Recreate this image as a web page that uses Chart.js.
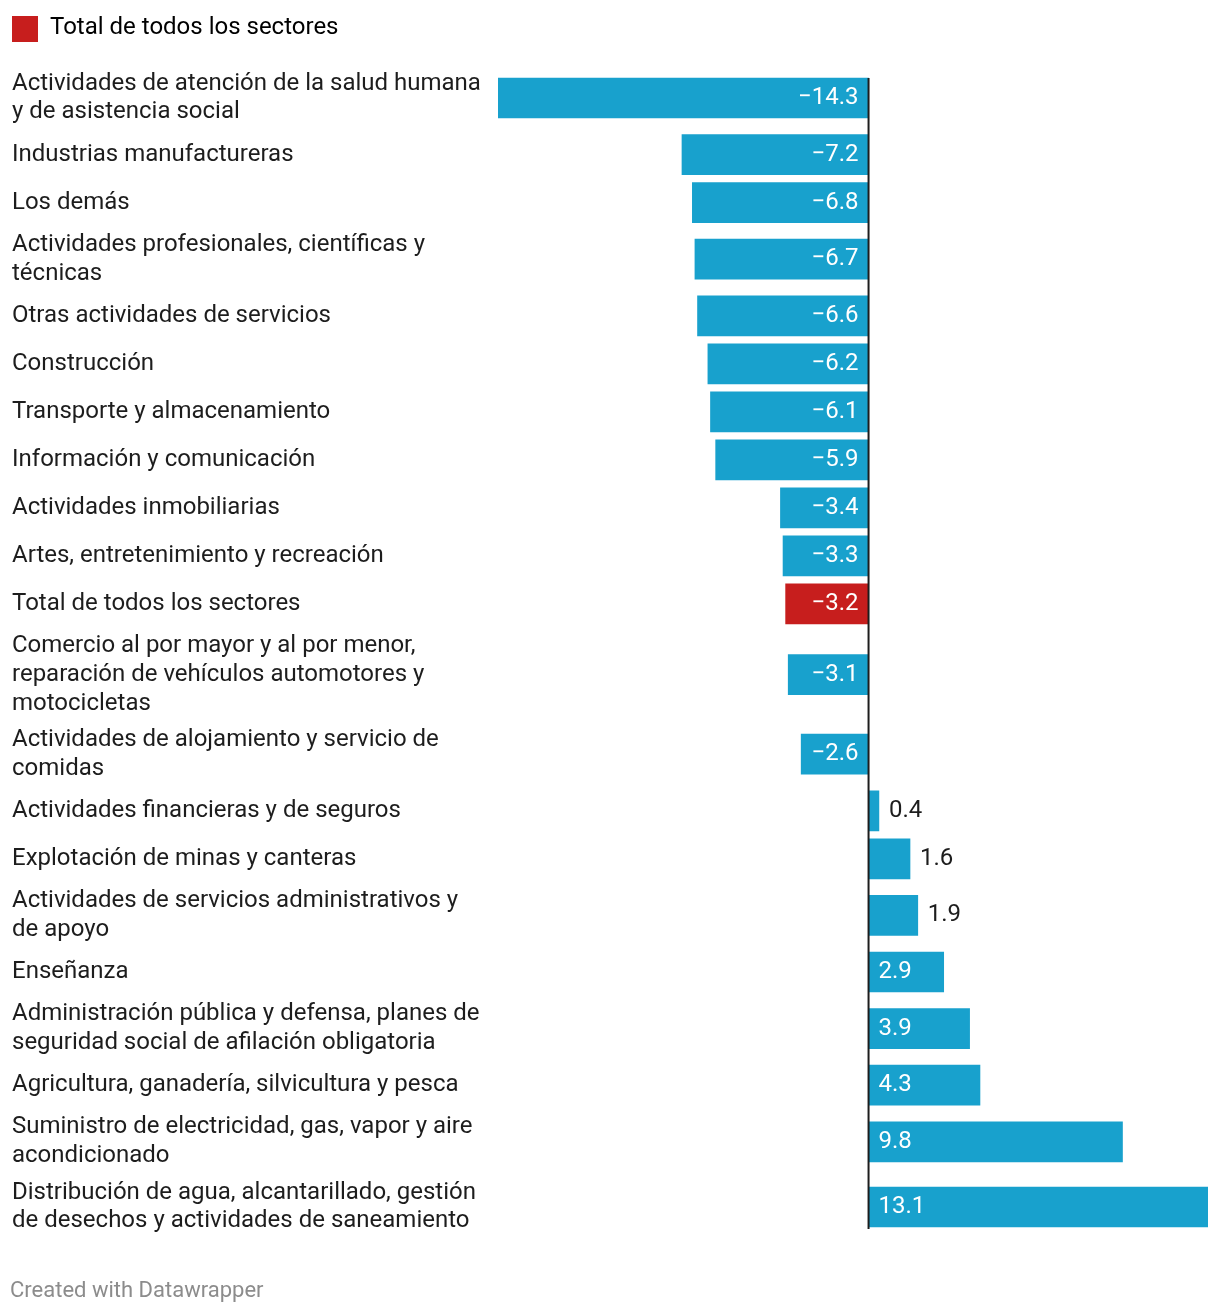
<!DOCTYPE html>
<html lang="es">
<head>
<meta charset="utf-8">
<title>Variación por sector</title>
<script src="https://cdn.jsdelivr.net/npm/chart.js@4.4.1/dist/chart.umd.min.js"></script>
<style>
  html, body { margin: 0; padding: 0; background: #fff; }
  #marco { position: relative; width: 1220px; height: 1314px; }
  #grafico { position: absolute; left: 0; top: 0; }
  #pie { position: absolute; left: 10px; top: 1277px; font: 22px Roboto, sans-serif; color: #8c8c8c; }
</style>
</head>
<body>
<div id="marco">
  <canvas id="grafico" width="1220" height="1314"></canvas>
  <div id="pie">Created with Datawrapper</div>
</div>
<script>
var sectores = [
    ['Actividades de atención de la salud humana', 'y de asistencia social'],
    ['Industrias manufactureras'],
    ['Los demás'],
    ['Actividades profesionales, científicas y', 'técnicas'],
    ['Otras actividades de servicios'],
    ['Construcción'],
    ['Transporte y almacenamiento'],
    ['Información y comunicación'],
    ['Actividades inmobiliarias'],
    ['Artes, entretenimiento y recreación'],
    ['Total de todos los sectores'],
    ['Comercio al por mayor y al por menor,', 'reparación de vehículos automotores y', 'motocicletas'],
    ['Actividades de alojamiento y servicio de', 'comidas'],
    ['Actividades financieras y de seguros'],
    ['Explotación de minas y canteras'],
    ['Actividades de servicios administrativos y', 'de apoyo'],
    ['Enseñanza'],
    ['Administración pública y defensa, planes de', 'seguridad social de afilación obligatoria'],
    ['Agricultura, ganadería, silvicultura y pesca'],
    ['Suministro de electricidad, gas, vapor y aire', 'acondicionado'],
    ['Distribución de agua, alcantarillado, gestión', 'de desechos y actividades de saneamiento']
];
var variacion = [-14.3, -7.2, -6.8, -6.7, -6.6, -6.2, -6.1, -5.9, -3.4, -3.3, -3.2, -3.1, -2.6, 0.4, 1.6, 1.9, 2.9, 3.9, 4.3, 9.8, 13.1];
var destacado = 'Total de todos los sectores';

var AZUL = '#18a1cd';
var ROJO = '#c71e1d';
var TEXTO = '#1d1d1d';
var FUENTE = 'Roboto, "Noto Sans", sans-serif';

// altura de cada fila segun las lineas de su etiqueta
var ALTO_LINEA = 28.6;
var alturas = sectores.map(function(l) { return Math.max(48, l.length * ALTO_LINEA + 8); });
var centros = [];
var acum = 0;
alturas.forEach(function(h) { centros.push(acum + h / 2); acum += h; });
var totalAlto = acum;
var MARGEN_ARRIBA = 13.4;

var puntos = variacion.map(function(v, i) { return { x: v, y: centros[i] }; });
var colores = sectores.map(function(l) { return l.join(' ') === destacado ? ROJO : AZUL; });

function formatoValor(v) {
    return (v < 0 ? '\u2212' : '') + Math.abs(v).toFixed(1);
}

var etiquetasValor = {
    id: 'etiquetasValor',
    afterDatasetsDraw: function(chart) {
        var ctx = chart.ctx;
        var meta = chart.getDatasetMeta(0);
        var x0 = chart.scales.x.getPixelForValue(0);
        ctx.save();
        ctx.font = '24px ' + FUENTE;
        ctx.textBaseline = 'middle';
        meta.data.forEach(function(bar, i) {
            var v = variacion[i];
            var txt = formatoValor(v);
            var w = ctx.measureText(txt).width;
            var largo = Math.abs(bar.x - bar.base);
            if (largo > w + 20) {
                ctx.fillStyle = '#fff';
                if (v < 0) { ctx.textAlign = 'right'; ctx.fillText(txt, bar.base - 10, bar.y); }
                else { ctx.textAlign = 'left'; ctx.fillText(txt, bar.base + 10, bar.y); }
            } else {
                ctx.fillStyle = TEXTO;
                if (v < 0) { ctx.textAlign = 'right'; ctx.fillText(txt, bar.x - 10, bar.y); }
                else { ctx.textAlign = 'left'; ctx.fillText(txt, bar.x + 10, bar.y); }
            }
        });
        // linea del cero
        var primero = meta.data[0];
        var ultimo = meta.data[meta.data.length - 1];
        ctx.strokeStyle = TEXTO;
        ctx.lineWidth = 2;
        ctx.beginPath();
        ctx.moveTo(x0, primero.y - primero.height / 2);
        ctx.lineTo(x0, ultimo.y + ultimo.height / 2 + 2);
        ctx.stroke();
        ctx.restore();
    }
};

var ctx = document.getElementById('grafico').getContext('2d');
new Chart(ctx, {
    type: 'bar',
    data: {
        datasets: [{
            label: destacado,
            data: puntos,
            backgroundColor: colores,
            borderWidth: 0,
            barThickness: 40
        }]
    },
    options: {
        indexAxis: 'y',
        responsive: false,
        animation: false,
        events: [],
        layout: { padding: { top: 16, left: 12, right: 12, bottom: 74.4 } },
        plugins: {
            tooltip: { enabled: false },
            legend: {
                position: 'top',
                align: 'start',
                labels: {
                    boxWidth: 28,
                    boxHeight: 28,
                    padding: -2,
                    color: TEXTO,
                    font: { size: 24, family: FUENTE },
                    generateLabels: function() {
                        return [{ text: destacado, fillStyle: ROJO, strokeStyle: ROJO, lineWidth: 0, hidden: false, datasetIndex: 0 }];
                    }
                }
            }
        },
        scales: {
            x: {
                type: 'linear',
                display: false,
                min: Math.min.apply(null, variacion),
                max: Math.max.apply(null, variacion)
            },
            y: {
                type: 'linear',
                reverse: true,
                offset: false,
                min: -MARGEN_ARRIBA,
                max: totalAlto,
                grid: { display: false },
                border: { display: false },
                afterBuildTicks: function(scale) {
                    scale.ticks = centros.map(function(c) { return { value: c }; });
                },
                afterFit: function(scale) {
                    scale.width = 486;
                    scale.paddingTop = 0;
                    scale.paddingBottom = 0;
                },
                ticks: {
                    autoSkip: false,
                    crossAlign: 'far',
                    padding: 0,
                    color: TEXTO,
                    font: { size: 24, family: FUENTE, lineHeight: 1.2 },
                    callback: function(valor, i) { return sectores[i]; }
                }
            }
        }
    },
    plugins: [etiquetasValor]
});
</script>
</body>
</html>
